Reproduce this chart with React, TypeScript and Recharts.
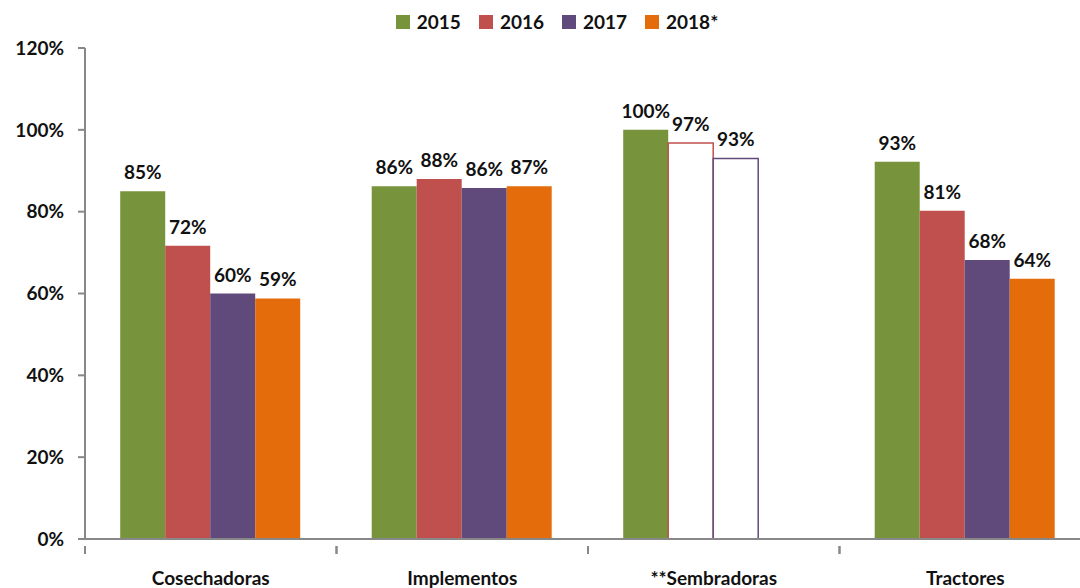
import React from "react";
import {
  BarChart, Bar, XAxis, YAxis, Legend, LabelList, Cell,
} from "recharts";

const categories = ["Cosechadoras", "Implementos", "**Sembradoras", "Tractores"];
const years = ["2015", "2016", "2017", "2018*"];
const colors = ["#77933C", "#C0504D", "#604A7B", "#E46C0A"];

const v2015 = [85, 86.2, 100, 92.2];
const v2016 = [71.7, 88, 96.8, 80.2];
const v2017 = [60, 85.8, 93, 68.2];
const v2018 = [58.8, 86.2, null, 63.6];

const l2015 = ["85%", "86%", "100%", "93%"];
const l2016 = ["72%", "88%", "97%", "81%"];
const l2017 = ["60%", "86%", "93%", "68%"];
const l2018 = ["59%", "87%", null, "64%"];

const yTicks = [0, 20, 40, 60, 80, 100, 120];

// which bars are drawn hollow (index of category)
const hollow2016 = [2];
const hollow2017 = [2];

const data = categories.map((name, i) => ({
  name,
  v2015: v2015[i], v2016: v2016[i], v2017: v2017[i], v2018: v2018[i],
  l2015: l2015[i], l2016: l2016[i], l2017: l2017[i], l2018: l2018[i],
}));

const FONT = "Lato, 'Open Sans', sans-serif";
const FS = 19;

const BarLabel = (props: any) => {
  const { x, y, width, value } = props;
  if (value == null || value === "") return null;
  return (
    <text
      x={x + width / 2}
      y={y - 12}
      textAnchor="middle"
      fontFamily={FONT}
      fontWeight={700}
      fontSize={FS}
      fill="#111"
    >
      {value}
    </text>
  );
};

const CatTick = (props: any) => {
  const { x, y, payload } = props;
  const band = 251.5;
  return (
    <g>
      <line x1={x - band / 2} x2={x - band / 2} y1={y - 1} y2={y + 7} stroke="#888" strokeWidth={2} />
      <line x1={x + band / 2} x2={x + band / 2} y1={y - 1} y2={y + 7} stroke="#888" strokeWidth={2} />
      <text x={x} y={y + 38} textAnchor="middle" fontFamily={FONT} fontWeight={700} fontSize={FS} fill="#111">
        {payload.value}
      </text>
    </g>
  );
};

const LegendBox = () => (
  <div style={{ display: "flex", justifyContent: "center", gap: 18, fontFamily: FONT, fontWeight: 700, fontSize: FS, color: "#111", paddingLeft: 34 }}>
    {years.map((y, i) => (
      <div key={y} style={{ display: "flex", alignItems: "center" }}>
        <span style={{ display: "inline-block", width: 14, height: 14, background: colors[i], marginRight: 7 }} />
        <span>{y}</span>
      </div>
    ))}
  </div>
);

export default function App() {
  return (
    <div style={{ position: "fixed", left: 0, top: 0, width: 1080, height: 588, overflow: "hidden", background: "#fff" }}>
      <BarChart
        width={1100}
        height={588}
        data={data}
        margin={{ top: 18, right: 9, bottom: 0, left: 0 }}
        barCategoryGap="14%"
        barGap={0}
      >
        <Legend
          verticalAlign="top"
          content={<LegendBox />}
          wrapperStyle={{ top: 10, left: 0, width: 1080, height: 30 }}
        />
        <YAxis
          width={85}
          domain={[0, 120]}
          ticks={yTicks}
          tickFormatter={(v: number) => `${v}%`}
          axisLine={{ stroke: "#888", strokeWidth: 2 }}
          tickLine={{ stroke: "#888", strokeWidth: 2 }}
          tickSize={7}
          tick={{ fontFamily: FONT, fontWeight: 700, fontSize: FS, fill: "#111" }}
          tickMargin={14}
        />
        <XAxis
          dataKey="name"
          height={49}
          axisLine={{ stroke: "#888", strokeWidth: 2 }}
          tickLine={false}
          tick={<CatTick />}
          interval={0}
        />
        <Bar dataKey="v2015" name="2015" fill={colors[0]} isAnimationActive={false}>
          <LabelList dataKey="l2015" content={<BarLabel />} />
        </Bar>
        <Bar dataKey="v2016" name="2016" fill={colors[1]} isAnimationActive={false}>
          {data.map((_, i) => (
            <Cell key={i} fill={hollow2016.includes(i) ? "#fff" : colors[1]} stroke={hollow2016.includes(i) ? colors[1] : "none"} strokeWidth={1.5} />
          ))}
          <LabelList dataKey="l2016" content={<BarLabel />} />
        </Bar>
        <Bar dataKey="v2017" name="2017" fill={colors[2]} isAnimationActive={false}>
          {data.map((_, i) => (
            <Cell key={i} fill={hollow2017.includes(i) ? "#fff" : colors[2]} stroke={hollow2017.includes(i) ? colors[2] : "none"} strokeWidth={1.5} />
          ))}
          <LabelList dataKey="l2017" content={<BarLabel />} />
        </Bar>
        <Bar dataKey="v2018" name="2018*" fill={colors[3]} isAnimationActive={false}>
          <LabelList dataKey="l2018" content={<BarLabel />} />
        </Bar>
      </BarChart>
    </div>
  );
}
